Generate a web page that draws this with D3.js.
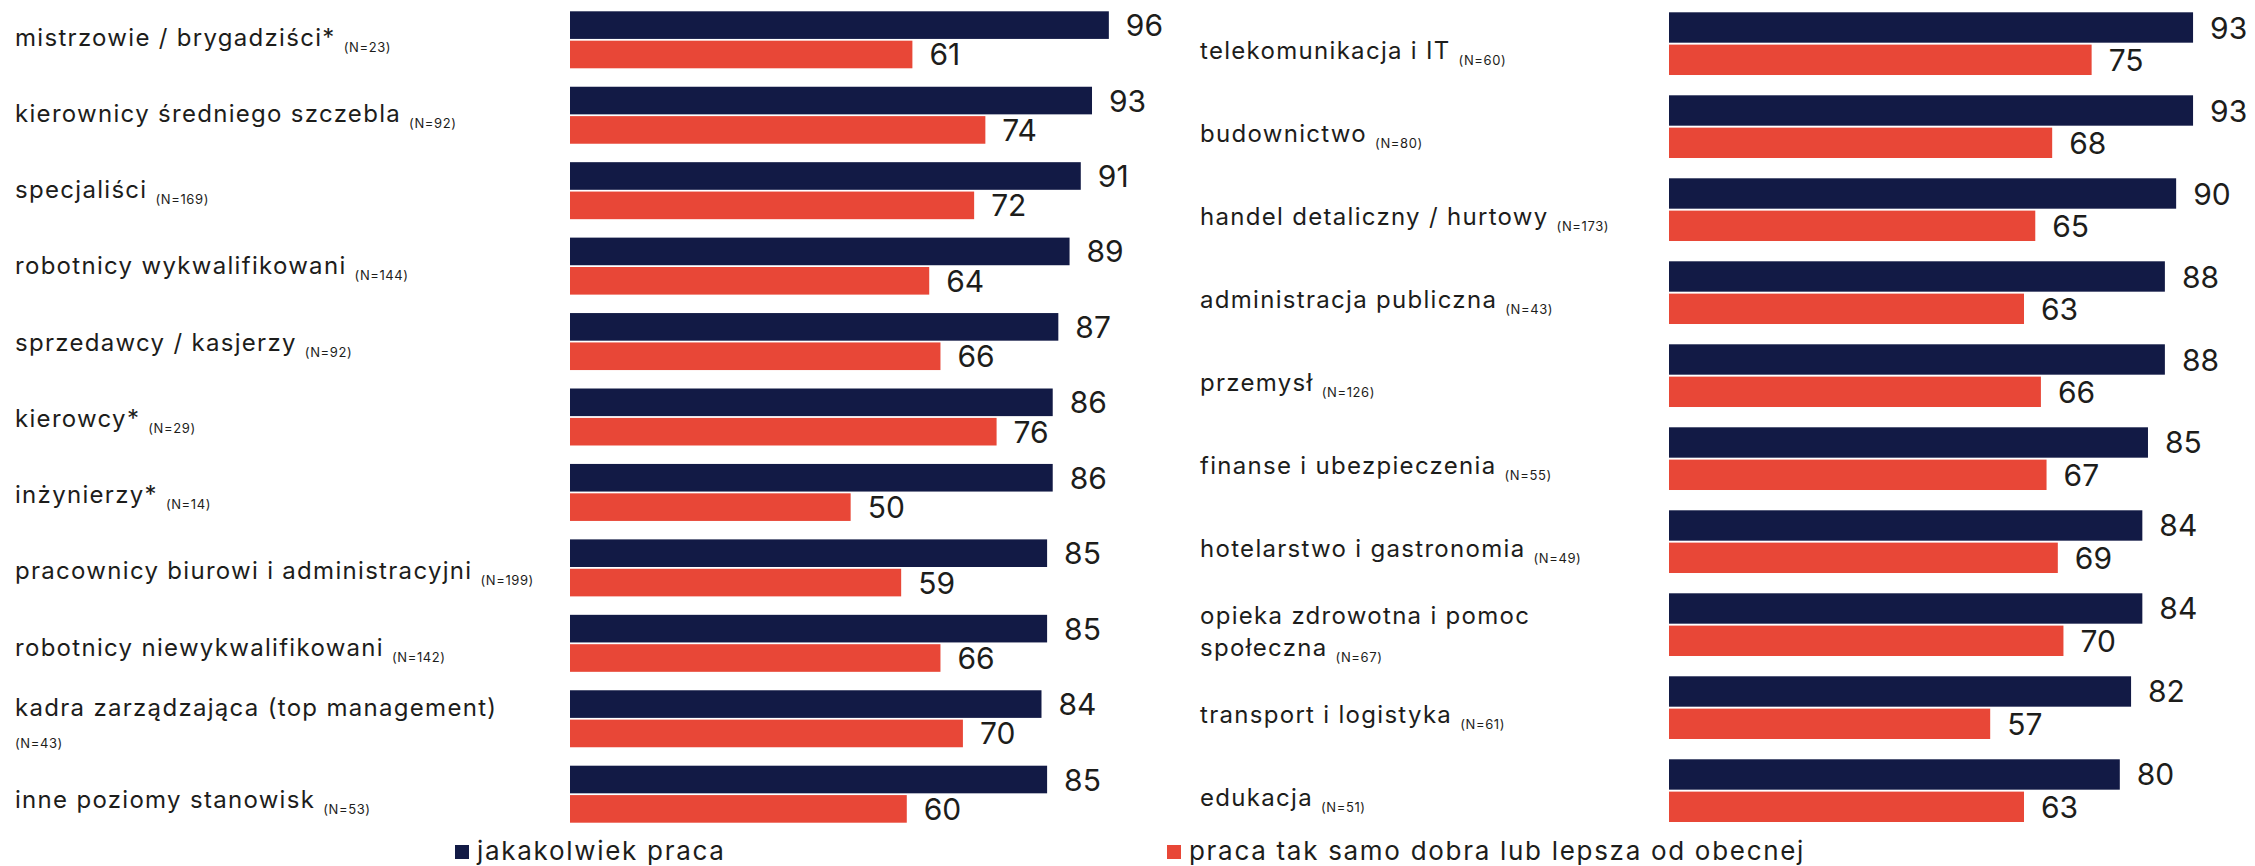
<!DOCTYPE html>
<html lang="pl">
<head>
<meta charset="utf-8">
<script src="https://cdn.jsdelivr.net/npm/d3@7"></script>
<style>
  html, body { margin: 0; padding: 0; background: #fff; }
  svg { display: block; font-family: Inter, "Noto Sans", sans-serif; }
  text { white-space: pre; }
</style>
</head>
<body>
<svg id="chart" width="2255" height="866"></svg>
<script>
// Series
const seriesNames = ["jakakolwiek praca", "praca tak samo dobra lub lepsza od obecnej"];
const seriesColors = ["#121a45", "#e84737"];

// Left panel: job positions ("\n" marks a line break in the label)
const positionLabels = [
  "mistrzowie / brygadziści*",
  "kierownicy średniego szczebla",
  "specjaliści",
  "robotnicy wykwalifikowani",
  "sprzedawcy / kasjerzy",
  "kierowcy*",
  "inżynierzy*",
  "pracownicy biurowi i administracyjni",
  "robotnicy niewykwalifikowani",
  "kadra zarządzająca (top management)\n",
  "inne poziomy stanowisk"
];
const positionN = [23, 92, 169, 144, 92, 29, 14, 199, 142, 43, 53];
const positionAny = [96, 93, 91, 89, 87, 86, 86, 85, 85, 84, 85];
const positionBetter = [61, 74, 72, 64, 66, 76, 50, 59, 66, 70, 60];

// Right panel: sectors
const sectorLabels = [
  "telekomunikacja i IT",
  "budownictwo",
  "handel detaliczny / hurtowy",
  "administracja publiczna",
  "przemysł",
  "finanse i ubezpieczenia",
  "hotelarstwo i gastronomia",
  "opieka zdrowotna i pomoc\nspołeczna",
  "transport i logistyka",
  "edukacja"
];
const sectorN = [60, 80, 173, 43, 126, 55, 49, 67, 61, 51];
const sectorAny = [93, 93, 90, 88, 88, 85, 84, 84, 82, 80];
const sectorBetter = [75, 68, 65, 63, 66, 67, 69, 70, 57, 63];

const svg = d3.select("#chart");
const textColor = "#1d1d1b";

function drawPanel(p) {
  const n = p.labels.length;
  const g = svg.append("g");

  const x = d3.scaleLinear().domain([0, 100]).range([p.x0, p.x1]);
  const y = d3.scaleBand().domain(d3.range(n)).range([p.top, p.bottom])
    .paddingInner(0.2445).paddingOuter(0);
  const ySub = d3.scaleBand().domain([0, 1]).range([0, y.bandwidth()]).paddingInner(0.06);
  const yLabel = d3.scalePoint().domain(d3.range(n)).range([p.labelTop, p.labelBottom]);

  const rows = p.labels.map((label, i) => ({
    i, label, n: p.n[i], values: [p.any[i], p.better[i]]
  }));

  const row = g.selectAll("g.row").data(rows).join("g")
    .attr("class", "row")
    .attr("transform", d => `translate(0,${y(d.i)})`);

  row.selectAll("rect").data(d => d.values).join("rect")
    .attr("x", x(0))
    .attr("y", (v, j) => ySub(j))
    .attr("width", v => x(v) - x(0))
    .attr("height", ySub.bandwidth())
    .attr("fill", (v, j) => seriesColors[j]);

  row.selectAll("text.val").data(d => d.values).join("text")
    .attr("class", "val")
    .attr("x", v => x(v) + 17)
    .attr("y", (v, j) => ySub(j) + ySub.bandwidth() / 2 + 11)
    .attr("font-size", 30)
    .attr("fill", textColor)
    .text(v => v);

  // Category labels, with the sample size as a small subscript
  const lineHeight = 32;
  g.selectAll("text.cat").data(rows).join("text")
    .attr("class", "cat")
    .attr("font-size", 24)
    .attr("letter-spacing", 1.3)
    .attr("fill", textColor)
    .each(function(d) {
      const t = d3.select(this);
      const lines = d.label.split("\n");
      lines.forEach((line, k) => {
        const baseY = yLabel(d.i) + (k - (lines.length - 1) / 2) * lineHeight;
        t.append("tspan").attr("x", p.labelX).attr("y", baseY)
          .text(line + (k === lines.length - 1 && line ? " " : ""));
        if (k === lines.length - 1) {
          const nt = t.append("tspan").attr("font-size", 13)
            .attr("letter-spacing", 0.6).attr("dy", 6)
            .text(`(N=${d.n})`);
          if (!line) nt.attr("x", p.labelX).attr("dy", null).attr("y", baseY);
        }
      });
    });
}

drawPanel({
  labels: positionLabels, n: positionN, any: positionAny, better: positionBetter,
  labelX: 15, x0: 570, x1: 1131.3, top: 11.3, bottom: 822.7, labelTop: 45.5, labelBottom: 808
});
drawPanel({
  labels: sectorLabels, n: sectorN, any: sectorAny, better: sectorBetter,
  labelX: 1200, x0: 1669, x1: 2232.5, top: 12.3, bottom: 822, labelTop: 59.3, labelBottom: 806.3
});

// Legend
const legendX = [455, 1167];
const legend = svg.append("g").selectAll("g").data(seriesNames).join("g")
  .attr("transform", (d, i) => `translate(${legendX[i]},845)`);
legend.append("rect").attr("width", 14).attr("height", 14)
  .attr("fill", (d, i) => seriesColors[i]);
legend.append("text").attr("x", 22).attr("y", 14.5)
  .attr("font-size", 26).attr("letter-spacing", 1.7)
  .attr("fill", textColor).text(d => d);
</script>
</body>
</html>
